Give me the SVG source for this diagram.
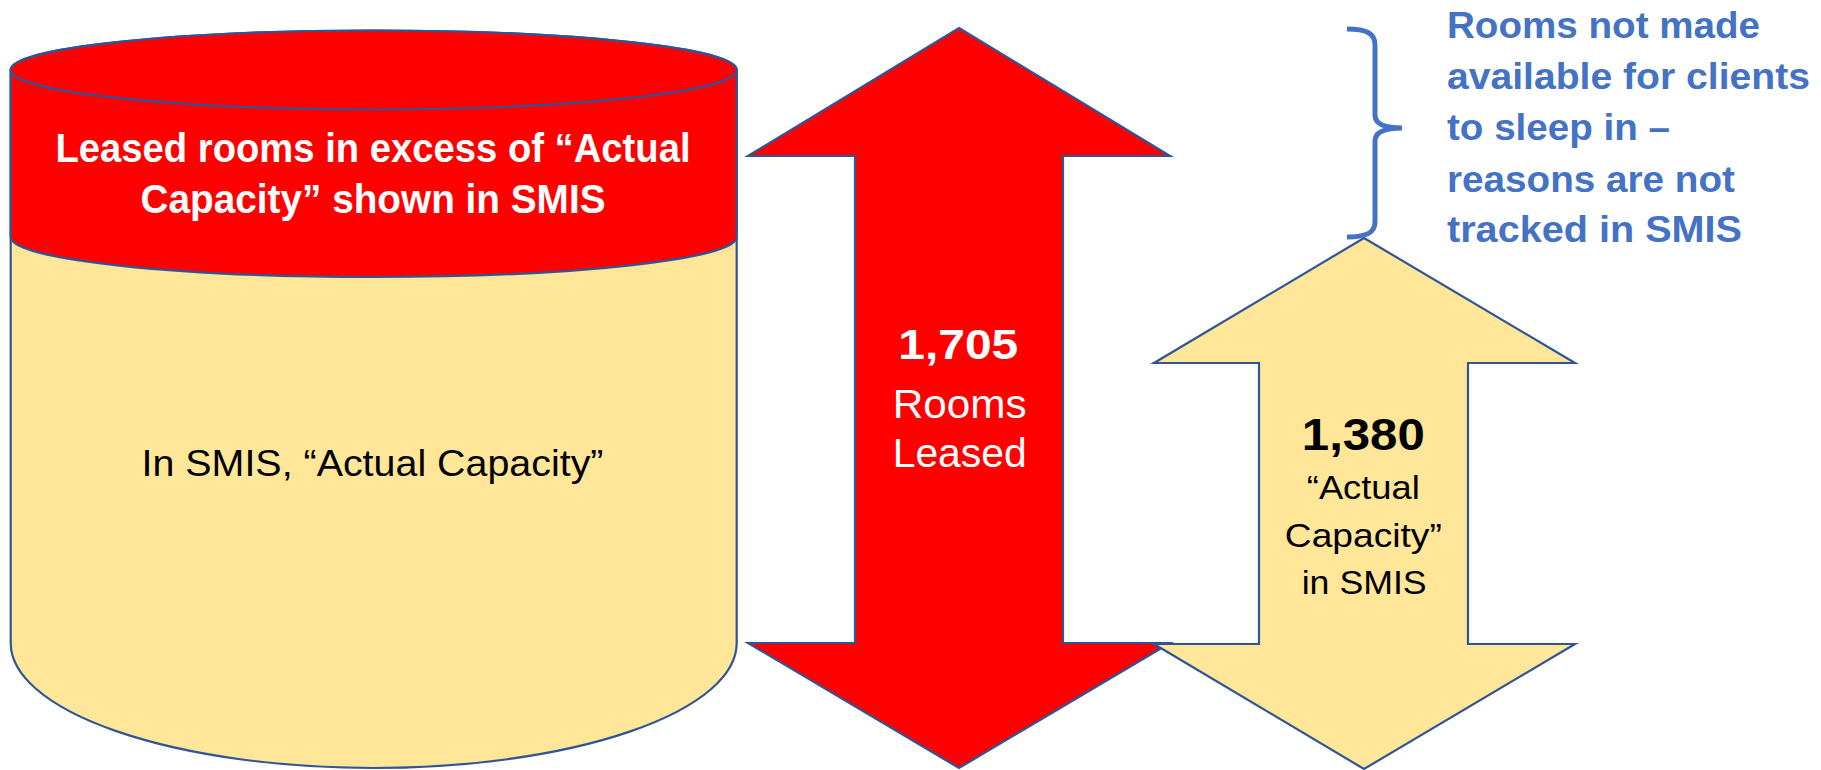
<svg xmlns="http://www.w3.org/2000/svg" width="1821" height="770" viewBox="0 0 1821 770">
<style>
.shape{stroke:#2F5597;stroke-width:2.2;stroke-linejoin:miter}
.red{fill:#FF0000}
.yel{fill:#FFE699}
.t{font-family:"Liberation Sans",Arial,sans-serif;text-anchor:middle}
.b{font-weight:bold}
.blue{font-family:"Liberation Sans",Arial,sans-serif;font-weight:bold;font-size:37px;fill:#4472C4}
</style>
<rect width="1821" height="770" fill="#FFFFFF"/>
<g id="cylinder">
  <path class="shape yel" d="M10.7,70 L10.7,643 A363,125 0 0 0 736.7,643 L736.7,70 Z"/>
  <path class="shape red" d="M10.7,70 L10.7,237 A363,40 0 0 0 736.7,237 L736.7,70 A363,39.5 0 0 0 10.7,70 Z"/>
  <ellipse class="shape red" cx="373.7" cy="70" rx="363" ry="39.5"/>
  <text class="t b" x="373" y="162" font-size="40" fill="#FFFFFF" textLength="635" lengthAdjust="spacingAndGlyphs">Leased rooms in excess of “Actual</text>
  <text class="t b" x="373" y="213" font-size="40" fill="#FFFFFF" textLength="465" lengthAdjust="spacingAndGlyphs">Capacity” shown in SMIS</text>
  <text class="t" x="372.5" y="476" font-size="37" fill="#000000" textLength="462" lengthAdjust="spacingAndGlyphs">In SMIS, “Actual Capacity”</text>
</g>
<g id="arrow-leased">
  <polygon class="shape red" points="959,28 1170,156 1063,156 1063,643 1170,643 959,768 748,643 855,643 855,156 748,156"/>
  <text class="t b" x="958.3" y="359" font-size="43" fill="#FFFFFF" textLength="120" lengthAdjust="spacingAndGlyphs">1,705</text>
  <text class="t" x="959.7" y="418" font-size="40" fill="#FFFFFF" textLength="134" lengthAdjust="spacingAndGlyphs">Rooms</text>
  <text class="t" x="959.7" y="467" font-size="40" fill="#FFFFFF" textLength="134" lengthAdjust="spacingAndGlyphs">Leased</text>
</g>
<g id="arrow-capacity">
  <polygon class="shape yel" points="1364,238 1575,363 1468,363 1468,644 1575,644 1364,769 1154,644 1259,644 1259,363 1154,363"/>
  <text class="t b" x="1363.3" y="450" font-size="44" fill="#000000" textLength="123" lengthAdjust="spacingAndGlyphs">1,380</text>
  <text class="t" x="1363.3" y="499" font-size="34" fill="#000000" textLength="113" lengthAdjust="spacingAndGlyphs">“Actual</text>
  <text class="t" x="1363.3" y="547" font-size="34" fill="#000000" textLength="157" lengthAdjust="spacingAndGlyphs">Capacity”</text>
  <text class="t" x="1364.2" y="594" font-size="34" fill="#000000" textLength="125" lengthAdjust="spacingAndGlyphs">in SMIS</text>
</g>
<g id="connectors">
  <path d="M1347,29 C1366,29 1375,33 1375,45 L1375,115 C1375,124 1385,128 1402,128 C1385,128 1375,132 1375,141 L1375,222 C1375,233 1366,237 1347,237" fill="none" stroke="#4472C4" stroke-width="5"/>
</g>
<g id="note">
  <text class="blue" x="1447" y="38" textLength="313" lengthAdjust="spacingAndGlyphs">Rooms not made</text>
  <text class="blue" x="1447" y="89" textLength="363" lengthAdjust="spacingAndGlyphs">available for clients</text>
  <text class="blue" x="1447" y="140" textLength="223" lengthAdjust="spacingAndGlyphs">to sleep in –</text>
  <text class="blue" x="1447" y="191.5" textLength="288" lengthAdjust="spacingAndGlyphs">reasons are not</text>
  <text class="blue" x="1447" y="242" textLength="295" lengthAdjust="spacingAndGlyphs">tracked in SMIS</text>
</g>
</svg>
